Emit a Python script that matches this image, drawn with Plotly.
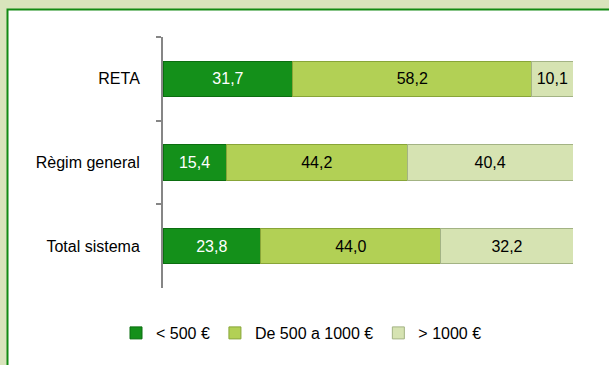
import plotly.graph_objects as go

categories = ["RETA", "Règim general", "Total sistema"]
series_names = ["< 500 €", "De 500 a 1000 €", "> 1000 €"]
lt500 = [31.7, 15.4, 23.8]
mid = [58.2, 44.2, 44.0]
gt1000 = [10.1, 40.4, 32.2]

colors = ["#14901a", "#b2d055", "#d6e3b2"]
line_colors = ["#0b6e10", "#88a538", "#a3b384"]
text_colors = ["white", "black", "black"]

W, H = 609, 365
L, R, T, B = 163, 36, 37, 77
pw, ph = W - L - R, H - T - B

def px_x(x):
    return (x - L) / pw

def px_y(y):
    return (H - B - y) / ph

FONT = "Liberation Sans, Arial, sans-serif"

fig = go.Figure()
for name, vals, c, lc, tc in zip(series_names, [lt500, mid, gt1000], colors, line_colors, text_colors):
    fig.add_trace(go.Bar(
        y=categories, x=vals, name=name, orientation="h",
        marker=dict(color=c, line=dict(color=lc, width=1)),
        texttemplate="%{x:.1f}", textposition="inside", insidetextanchor="middle",
        textangle=0, constraintext="none",
        textfont=dict(color=tc, size=16, family=FONT),
        width=0.42,
    ))

fig.update_layout(
    width=W, height=H,
    margin=dict(l=L, r=R, t=T, b=B, pad=0),
    barmode="stack",
    separators=",.",
    paper_bgcolor="#d9e4bc",
    plot_bgcolor="rgba(0,0,0,0)",
    font=dict(family=FONT, size=16, color="black"),
    showlegend=True,
    legend=dict(orientation="h", x=px_x(116), xanchor="left", y=px_y(333), yanchor="middle",
                font=dict(size=16, family=FONT), traceorder="normal",
                bgcolor="rgba(0,0,0,0)"),
    shapes=[dict(type="rect", xref="paper", yref="paper", layer="below",
                 x0=px_x(7.5), x1=px_x(640), y0=px_y(9.5), y1=px_y(400),
                 fillcolor="white", line=dict(color="#138a13", width=2))],
)
fig.update_xaxes(range=[0, 100], visible=False, fixedrange=True)
fig.update_yaxes(categoryorder="array", categoryarray=categories, autorange="reversed",
                 showline=True, linecolor="#868686", linewidth=2,
                 ticks="outside", ticklen=5, tickcolor="#868686", tickwidth=2,
                 tickson="boundaries", ticklabelstandoff=18, showgrid=False, zeroline=False,
                 fixedrange=True)

fig.write_html("out.html", config={"displayModeBar": False},
               post_script="document.body.style.margin='0';document.body.style.overflow='hidden';")
